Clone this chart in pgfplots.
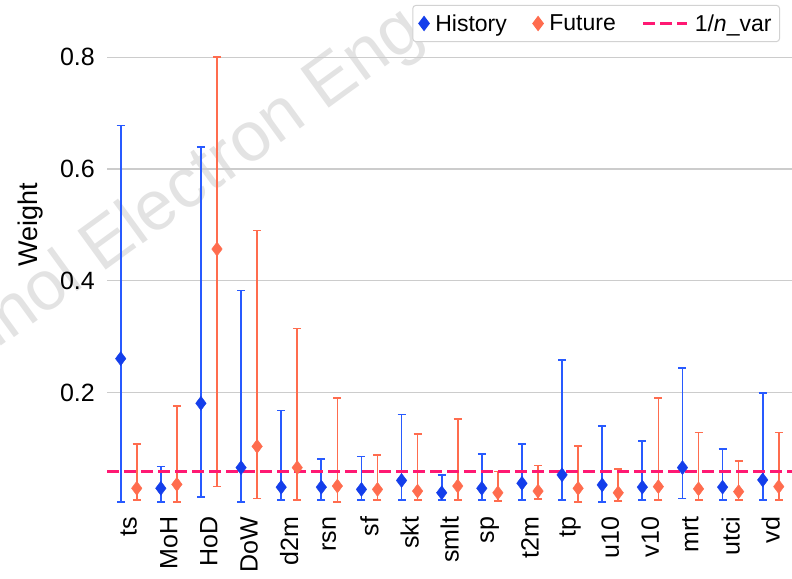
\documentclass[border=0pt]{standalone}
\usepackage{pgfplots}
\pgfplotsset{compat=1.18}
\usepackage{pgfplotstable}
\usepackage{fontspec}
\setmainfont{Liberation Sans}
\definecolor{hist}{RGB}{20,62,235}
\definecolor{histbar}{RGB}{40,90,255}
\definecolor{fut}{RGB}{255,108,78}
\definecolor{refc}{RGB}{255,25,115}
\pgfplotsset{mylegline/.style={legend image code/.code={\draw[##1] (0bp,0bp) -- (44bp,0bp);}}}
\pgfplotstableread{
x hy hlo hhi fy flo fhi
0 0.261 0.005 0.678 0.029 0.008 0.108
1 0.029 0.005 0.068 0.036 0.005 0.176
2 0.181 0.014 0.640 0.457 0.032 0.800
3 0.066 0.005 0.383 0.104 0.011 0.490
4 0.031 0.008 0.168 0.066 0.008 0.315
5 0.031 0.008 0.081 0.033 0.005 0.191
6 0.027 0.008 0.086 0.027 0.008 0.088
7 0.043 0.008 0.161 0.024 0.008 0.126
8 0.021 0.008 0.053 0.033 0.008 0.153
9 0.029 0.008 0.090 0.021 0.006 0.059
10 0.038 0.008 0.108 0.024 0.010 0.070
11 0.053 0.008 0.259 0.029 0.005 0.105
12 0.035 0.005 0.140 0.021 0.006 0.064
13 0.031 0.008 0.114 0.032 0.008 0.191
14 0.066 0.011 0.244 0.028 0.008 0.129
15 0.031 0.008 0.099 0.023 0.008 0.078
16 0.044 0.008 0.200 0.032 0.008 0.129
}\data
\begin{document}
\begin{tikzpicture}
\useasboundingbox (0,0) rectangle (792bp,579bp);
\node[rotate=36, anchor=base east, text=gray!22, inner sep=0pt,
  font=\fontsize{70bp}{80bp}\selectfont] at (426bp,541bp) {Technol Electron Eng};
\begin{axis}[
  at={(107bp,74.5bp)}, anchor=south west,
  scale only axis, width=685bp, height=503.1bp,
  xmin=-0.541, xmax=16.53, ymin=0, ymax=0.9,
  axis line style={draw=none},
  major tick length=0pt,
  xtick={0,...,16},
  xticklabels={ts,MoH,HoD,DoW,d2m,rsn,sf,skt,smlt,sp,t2m,tp,u10,v10,mrt,utci,vd},
  ytick={0.2,0.4,0.6,0.8},
  /pgf/number format/assume math mode=true,
  xticklabel style={rotate=90, anchor=east, inner sep=0pt, font=\fontsize{25bp}{30bp}\selectfont},
  xticklabel shift=12bp,
  yticklabel style={anchor=east, inner sep=0pt, font=\fontsize{25bp}{30bp}\selectfont},
  yticklabel shift=12bp,
  ylabel={Weight},
  ylabel style={at={(axis description cs:-0.111,0.556)}, anchor=center, font=\fontsize{27bp}{32bp}\selectfont},
  ymajorgrids,
  grid style={gray!40, line width=1.2bp},
  legend columns=3,
  legend style={at={(rel axis cs:0.9825,0.993)}, anchor=north east,
    draw=gray!35, rounded corners=3bp, line width=1bp,
    font=\fontsize{23bp}{26bp}\selectfont, inner xsep=6bp, inner ysep=7bp,
    /tikz/every odd column/.append style={column sep=4bp},
    /tikz/every even column/.append style={column sep=24bp}},
  legend cell align=left,
]
\addplot[only marks, mark=diamond*, color=hist, mark size=7bp,
  error bars/.cd, y dir=both, y explicit,
  error bar style={histbar, line width=1.7bp},
  error mark options={rotate=90, histbar, line width=1.7bp, mark size=4bp}]
  table[x expr=\thisrow{x}-0.2, y=hy,
    y error plus expr=\thisrow{hhi}-\thisrow{hy},
    y error minus expr=\thisrow{hy}-\thisrow{hlo}] {\data};
\addplot[only marks, mark=diamond*, color=fut, mark size=7bp,
  error bars/.cd, y dir=both, y explicit,
  error bar style={fut, line width=1.7bp},
  error mark options={rotate=90, fut, line width=1.7bp, mark size=4bp}]
  table[x expr=\thisrow{x}+0.2, y=fy,
    y error plus expr=\thisrow{fhi}-\thisrow{fy},
    y error minus expr=\thisrow{fy}-\thisrow{flo}] {\data};
\addplot[refc, line width=3bp, dash pattern=on 12bp off 5bp, mylegline]
  coordinates {(-0.541,0.0588) (16.53,0.0588)};
\legend{History, Future, 1/\textit{n}\_var}
\end{axis}
\end{tikzpicture}
\end{document}
